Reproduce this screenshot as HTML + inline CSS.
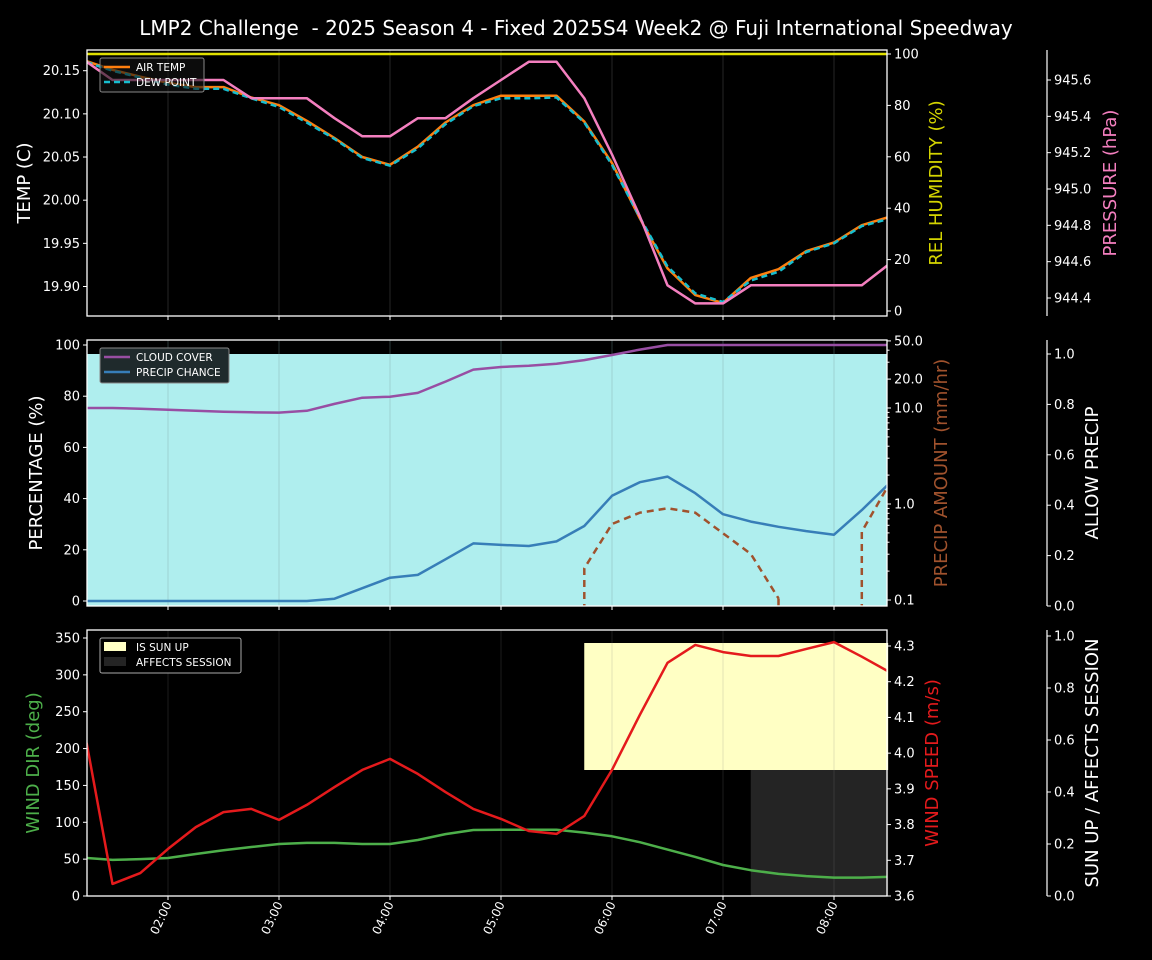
<!DOCTYPE html>
<html><head><meta charset="utf-8"><style>
html,body{margin:0;padding:0;background:#000;}
svg{display:block;font-family:"DejaVu Sans","Liberation Sans",sans-serif;}
</style></head><body>
<svg id="chart" width="1152" height="960" viewBox="0 0 1152 960">
<rect width="1152" height="960" fill="#000"/>
<text x="576" y="35" fill="#fff" font-size="20" text-anchor="middle" style="white-space:pre" xml:space="preserve">LMP2 Challenge  - 2025 Season 4 - Fixed 2025S4 Week2 @ Fuji International Speedway</text>
</svg>
<script>
const times=[76,90,105,120,135,150,165,180,195,210,225,240,255,270,285,300,315,330,345,360,375,390,405,420,435,450,465,480,495,509];
const airTemp=[20.161,20.151,20.143,20.136,20.131,20.131,20.119,20.110,20.092,20.072,20.050,20.041,20.062,20.090,20.110,20.121,20.121,20.121,20.091,20.043,19.979,19.921,19.890,19.881,19.910,19.920,19.941,19.951,19.971,19.980];
const dewPoint=[20.160,20.150,20.142,20.134,20.129,20.129,20.118,20.108,20.090,20.071,20.049,20.040,20.060,20.088,20.109,20.118,20.118,20.119,20.090,20.041,19.980,19.923,19.892,19.882,19.907,19.917,19.940,19.950,19.970,19.978];
const pressure=[945.70,945.60,945.60,945.60,945.60,945.60,945.50,945.50,945.50,945.39,945.29,945.29,945.39,945.39,945.50,945.60,945.70,945.70,945.50,945.19,944.85,944.47,944.37,944.37,944.47,944.47,944.47,944.47,944.47,944.58];
const humidity=[100,100,100,100,100,100,100,100,100,100,100,100,100,100,100,100,100,100,100,100,100,100,100,100,100,100,100,100,100,100];
const cloudCover=[75.4,75.4,75.1,74.7,74.3,73.9,73.7,73.6,74.3,77,79.4,79.8,81.3,85.7,90.4,91.4,91.9,92.7,94.1,96.1,98.2,100,100,100,100,100,100,100,100,100];
const precipChance=[0,0,0,0,0,0,0,0,0,0.9,5,9.1,10.2,16.3,22.5,21.9,21.5,23.3,29.3,41.1,46.4,48.6,42.1,33.9,31,29,27.3,25.9,35.5,45.3];
const precipAmount=[0,0,0,0,0,0,0,0,0,0,0,0,0,0,0,0,0,0,0.214,0.619,0.812,0.902,0.812,0.495,0.302,0.104,0,0,0.514,1.51];
const allowPrecip=[1,1,1,1,1,1,1,1,1,1,1,1,1,1,1,1,1,1,1,1,1,1,1,1,1,1,1,1,1,1];
const windDir=[51.6,49,50,51.5,57,62,66.5,70.5,72,72,70.5,70.5,76,84,89.5,90,90,90,86,81,73,63,53,42,35,30,27,25,25,26];
const windSpeed=[4.029,3.634,3.664,3.732,3.793,3.835,3.844,3.813,3.855,3.905,3.953,3.984,3.942,3.891,3.844,3.816,3.782,3.774,3.824,3.953,4.107,4.253,4.303,4.283,4.272,4.272,4.292,4.311,4.27,4.23];
const sunUp=[0,0,0,0,0,0,0,0,0,0,0,0,0,0,0,0,0,0,1,1,1,1,1,1,1,1,1,1,1,1];
const affectsSession=[0,0,0,0,0,0,0,0,0,0,0,0,0,0,0,0,0,0,0,0,0,0,0,0,1,1,1,1,1,1];
const hourTicks=[120,180,240,300,360,420,480];
const hourLabels=["02:00","03:00","04:00","05:00","06:00","07:00","08:00"];
const tempTicks=[19.90,19.95,20.00,20.05,20.10,20.15];
const humTicks=[0,20,40,60,80,100];
const presTicks=[944.4,944.6,944.8,945.0,945.2,945.4,945.6];
const pctTicks=[0,20,40,60,80,100];
const amtTicks=[0.1,1.0,10.0,20.0,50.0];
const allowTicks=[0,0.2,0.4,0.6,0.8,1.0];
const dirTicks=[0,50,100,150,200,250,300,350];
const spdTicks=[3.6,3.7,3.8,3.9,4.0,4.1,4.2,4.3];

const svg=document.getElementById('chart');
const NS='http://www.w3.org/2000/svg';
const X0=87,X1=887;
const xs=t=>168+(t-120)*111/60;
function el(tag,attrs,parent){const e=document.createElementNS(NS,tag);for(const k in attrs)e.setAttribute(k,attrs[k]);(parent||svg).appendChild(e);return e;}
function lin(d0,d1,r0,r1){return v=>r0+(v-d0)*(r1-r0)/(d1-d0);}
function line(vals,ys,color,w,dash,name,clip){
  let d='';vals.forEach((v,i)=>{d+=(i?'L':'M')+xs(times[i]).toFixed(1)+','+ys(v).toFixed(1);});
  const p=el('path',{d:d,fill:'none',stroke:color,'stroke-width':w,'stroke-linejoin':'round'});
  if(dash)p.setAttribute('stroke-dasharray',dash);
  if(clip)p.setAttribute('clip-path','url(#'+clip+')');
  
  
  return p;
}
function txt(x,y,s,opt){const t=el('text',Object.assign({x:x,y:y,fill:'#fff','font-size':13},opt||{}));t.textContent=s;return t;}
function vlabel(x,y,s,color,name){const t=el('text',{x:0,y:0,fill:color,'font-size':18,'text-anchor':'middle',transform:'translate('+x+','+y+') rotate(-90)'});t.textContent=s;}
function leftAxis(ticks,ys,fmt,top,bot,name){
  ticks.forEach(v=>{const y=ys(v);el('line',{x1:X0-4,x2:X0,y1:y,y2:y,stroke:'#fff'});const t=txt(X0-7,y+4.5,fmt(v),{'text-anchor':'end'});});
}
function rightAxis(xp,ticks,ys,fmt,top,bot,name,spine){
  if(spine)el('line',{x1:xp,x2:xp,y1:top,y2:bot,stroke:'#fff','stroke-width':1.2});
  ticks.forEach(v=>{const y=ys(v);el('line',{x1:xp,x2:xp+4,y1:y,y2:y,stroke:'#fff'});const t=txt(xp+7,y+4.5,fmt(v));});
}
function frame(top,bot,name){
  const r=el('rect',{x:X0,y:top,width:X1-X0,height:bot-top,fill:'none',stroke:'#fff','stroke-width':1.3});
  
  hourTicks.forEach(t=>{el('line',{x1:xs(t),x2:xs(t),y1:bot,y2:bot+4,stroke:'#fff'});});
}
function grid(top,bot,color){hourTicks.forEach(t=>{el('line',{x1:xs(t),x2:xs(t),y1:top,y2:bot,stroke:color,'stroke-width':1});});}
function clip(id,top,bot){const c=el('clipPath',{id:id});el('rect',{x:X0,y:top,width:X1-X0,height:bot-top},c);}

// ===== Panel 1 =====
const T1=50,B1=316;
clip('c1',T1,B1);
const yT=lin(19.90,20.15,286.5,70.7), yH=lin(0,100,311,54), yP=lin(944.4,945.6,298,80);
grid(T1,B1,'#262626');
line(humidity,yH,'#e0e000',2.5,null,'humidity-line','c1');
line(airTemp,yT,'#ff7f0e',2.5,null,'air-temp-line','c1');
line(dewPoint,yT,'#17becf',2.5,'6,4','dew-point-line','c1');
line(pressure,yP,'#f47fbf',2.5,null,'pressure-line','c1');
frame(T1,B1,'temp-panel');
leftAxis(tempTicks,yT,v=>v.toFixed(2),T1,B1,'temp-axis');
rightAxis(X1,humTicks,yH,v=>String(v),T1,B1,'humidity-axis',false);
rightAxis(1047,presTicks,yP,v=>v.toFixed(1),T1,B1,'pressure-axis',true);
vlabel(30,183,'TEMP (C)','#fff','temp-axis-title');
vlabel(942,183,'REL HUMIDITY (%)','#d4d400','humidity-axis-title');
vlabel(1116,183,'PRESSURE (hPa)','#f47fbf','pressure-axis-title');
(function(){const g=el('g',{});
el('rect',{x:100,y:58,width:104,height:34,rx:2,fill:'rgba(20,20,20,0.6)',stroke:'#888'},g);
el('line',{x1:104,x2:130,y1:67,y2:67,stroke:'#ff7f0e','stroke-width':2.5},g);
el('line',{x1:104,x2:130,y1:82,y2:82,stroke:'#17becf','stroke-width':2.5,'stroke-dasharray':'6,4'},g);
const a=txt(136,71,'AIR TEMP',{'font-size':10.5});g.appendChild(a);const b=txt(136,86,'DEW POINT',{'font-size':10.5});g.appendChild(b);})();

// ===== Panel 2 =====
const T2=340,B2=606;
clip('c2',T2,B2);
const yPct=lin(0,100,601,345), yA=lin(0,1,606,354);
const yAmt=v=>504-96*Math.log10(v);
let fd='M'+xs(times[0])+','+B2;allowPrecip.forEach((v,i)=>{fd+='L'+xs(times[i]).toFixed(1)+','+yA(v).toFixed(1);});fd+='L'+xs(times[times.length-1])+','+B2+'Z';
const fa=el('path',{d:fd,fill:'#afeeee','clip-path':'url(#c2)'});
grid(T2,B2,'rgba(120,160,160,0.35)');
line(cloudCover,yPct,'#984ea3',2.5,null,'cloud-cover-line','c2');
line(precipChance,yPct,'#377eb8',2.5,null,'precip-chance-line','c2');
(function(){let d='';
for(let i=0;i<precipAmount.length;i++){const v=precipAmount[i];if(v<=0)continue;const x=xs(times[i]),y=yAmt(v);
 if(i>0&&precipAmount[i-1]>0){}else d+='M'+x.toFixed(1)+','+(B2+5)+'L'+x.toFixed(1)+','+y.toFixed(1);
 if(i<precipAmount.length-1){const w=precipAmount[i+1];if(w>0)d+=(d.endsWith(y.toFixed(1))?'':'M'+x.toFixed(1)+','+y.toFixed(1))+'L'+xs(times[i+1]).toFixed(1)+','+yAmt(w).toFixed(1);else d+='M'+x.toFixed(1)+','+y.toFixed(1)+'L'+x.toFixed(1)+','+(B2+5);}}
const p=el('path',{d:d,fill:'none',stroke:'#a0522d','stroke-width':2.5,'stroke-dasharray':'7,5','clip-path':'url(#c2)'});})();
frame(T2,B2,'precip-panel');
leftAxis(pctTicks,yPct,v=>String(v),T2,B2,'percentage-axis');
rightAxis(X1,amtTicks,yAmt,v=>v.toFixed(1),T2,B2,'precip-amount-axis',false);
[0.2,0.3,0.4,0.5,0.6,0.7,0.8,0.9,2,3,4,5,6,7,8,9,30,40].forEach(v=>{const y=yAmt(v);el('line',{x1:X1,x2:X1+2.5,y1:y,y2:y,stroke:'#fff'});});
rightAxis(1047,allowTicks,yA,v=>v.toFixed(1),T2,B2,'allow-precip-axis',true);
vlabel(42,473,'PERCENTAGE (%)','#fff','percentage-axis-title');
vlabel(947,473,'PRECIP AMOUNT (mm/hr)','#a0522d','precip-amount-axis-title');
vlabel(1098,473,'ALLOW PRECIP','#fff','allow-precip-axis-title');
(function(){const g=el('g',{});
el('rect',{x:100,y:348,width:129,height:35,rx:2,fill:'#1f2a2c',stroke:'#888'},g);
el('line',{x1:104,x2:130,y1:357,y2:357,stroke:'#984ea3','stroke-width':2.5},g);
el('line',{x1:104,x2:130,y1:372,y2:372,stroke:'#377eb8','stroke-width':2.5},g);
g.appendChild(txt(136,361,'CLOUD COVER',{'font-size':10.5}));g.appendChild(txt(136,376,'PRECIP CHANCE',{'font-size':10.5}));})();

// ===== Panel 3 =====
const T3=630,B3=896;
clip('c3',T3,B3);
const yD=lin(0,350,896,638), yS=lin(3.6,4.3,896,646), yU=lin(0,1,896,636);
(function(){for(let i=0;i<times.length-1;i++){
 if(sunUp[i]>0&&sunUp[i+1]>0){const r=el('rect',{x:xs(times[i]),y:643,width:xs(times[i+1])-xs(times[i])+0.5,height:127,fill:'#ffffc4'});}
 if(affectsSession[i]>0&&affectsSession[i+1]>0){const r=el('rect',{x:xs(times[i]),y:770,width:xs(times[i+1])-xs(times[i])+0.5,height:126,fill:'#242424'});}
}})();
grid(T3,B3,'rgba(128,128,128,0.22)');
line(windDir,yD,'#4daf4a',2.5,null,'wind-dir-line','c3');
line(windSpeed,yS,'#e41a1c',2.5,null,'wind-speed-line','c3');
frame(T3,B3,'wind-panel');
leftAxis(dirTicks,yD,v=>String(v),T3,B3,'wind-dir-axis');
rightAxis(X1,spdTicks,yS,v=>v.toFixed(1),T3,B3,'wind-speed-axis',false);
rightAxis(1047,allowTicks,yU,v=>v.toFixed(1),T3,B3,'sun-up-axis',true);
vlabel(39,763,'WIND DIR (deg)','#4daf4a','wind-dir-axis-title');
vlabel(938,763,'WIND SPEED (m/s)','#e41a1c','wind-speed-axis-title');
vlabel(1098,763,'SUN UP / AFFECTS SESSION','#fff','sun-up-axis-title');
(function(){const g=el('g',{});
el('rect',{x:100,y:638,width:141,height:35,rx:2,fill:'#000',stroke:'#aaa'},g);
el('rect',{x:104,y:642,width:22,height:9,fill:'#ffffc4'},g);
el('rect',{x:104,y:657,width:22,height:9,fill:'#242424'},g);
g.appendChild(txt(136,651,'IS SUN UP',{'font-size':10.5}));g.appendChild(txt(136,666,'AFFECTS SESSION',{'font-size':10.5}));})();
hourTicks.forEach((t,i)=>{const x=xs(t);const l=el('text',{x:0,y:0,fill:'#fff','font-size':12,'text-anchor':'end',transform:'translate('+(x+4)+','+(904)+') rotate(-65)'});l.textContent=hourLabels[i];

});
</script>
</body></html>
